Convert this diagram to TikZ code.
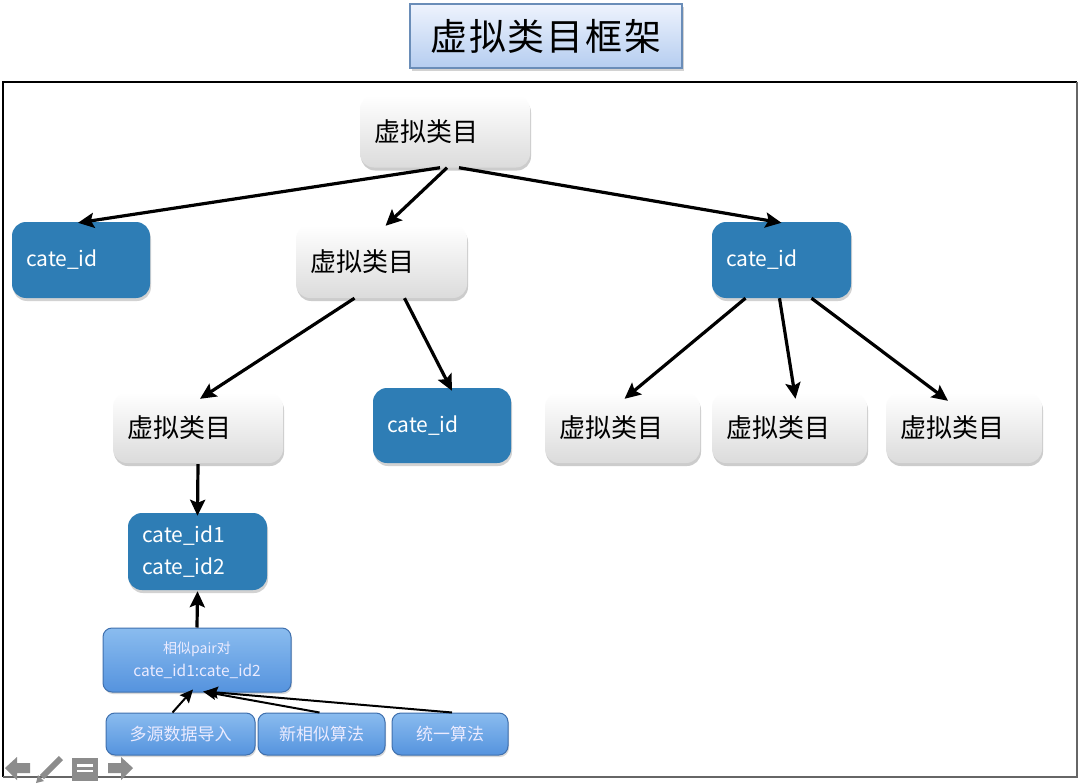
\documentclass[tikz,border=0pt]{standalone}
\usepackage{fontspec}
\setmainfont{Noto Sans CJK SC}
\usetikzlibrary{shadows,calc,arrows.meta}
\definecolor{cblue}{HTML}{2E7DB5}
\definecolor{ptop}{HTML}{8ABCEF}
\definecolor{pbot}{HTML}{5593DE}
\definecolor{pdraw}{HTML}{3F70AE}
\definecolor{ttop}{HTML}{EEF3FD}
\definecolor{tbot}{HTML}{B5CDF0}
\definecolor{tdraw}{HTML}{6A8DB8}
\definecolor{icon}{HTML}{8C8C8C}
\begin{document}
\begin{tikzpicture}[x=1pt,y=-1pt,
  vbox/.style={rounded corners=14pt, top color=white, bottom color=black!14, drop shadow={opacity=0.4,shadow xshift=1pt,shadow yshift=-3pt},
    font=\fontsize{26}{30}\selectfont, align=left, inner xsep=14pt, inner ysep=0pt, minimum height=72pt, text=black},
  cbox/.style={rounded corners=14pt, fill=cblue, drop shadow={opacity=0.35,shadow xshift=1pt,shadow yshift=-3pt},
    font=\fontsize{21}{32}\selectfont, align=left, inner xsep=14pt, inner ysep=0pt, minimum height=76pt, text=white},
  pbox/.style={rounded corners=9pt, top color=ptop, bottom color=pbot, draw=pdraw, line width=1pt,
    drop shadow={opacity=0.3,shadow xshift=1pt,shadow yshift=-2pt}, text=white!92!blue, align=center, inner sep=0pt},
  arr/.style={line width=3.2pt, -{Stealth[length=16pt,width=15pt,inset=3pt]}},
  sarr/.style={line width=2pt, -{Stealth[length=13pt,width=12pt,inset=2pt]}}
]
\useasboundingbox (0,0) rectangle (1080,784);
\fill[white] (0,0) rectangle (1080,784);
% frame
\draw[line width=1.4pt, black] (3,777) -- (3,82) -- (1077,82);
\draw[line width=2.6pt, black!60] (3,777) -- (1077,777) -- (1077,82);
% title
\node[draw=tdraw, line width=1.5pt, top color=ttop, bottom color=tbot, minimum width=272pt, minimum height=64pt,
  drop shadow={opacity=0.35,shadow xshift=2pt,shadow yshift=-3pt}, font=\fontsize{37}{40}\selectfont, inner sep=0pt]
  (title) at (546,36) {虚\hspace{2pt}拟\hspace{2pt}类\hspace{2pt}目\hspace{2pt}框\hspace{2pt}架};
% tree nodes
\node[vbox, text width=142pt] (root) at (445,131.5) {虚拟类目};
\node[cbox, text width=110pt] (cL) at (81,260) {cate\_id};
\node[vbox, text width=143pt, minimum height=73pt] (vM) at (381.5,261.5) {虚拟类目};
\node[cbox, text width=111pt] (cR) at (781.5,260) {cate\_id};
\node[vbox, text width=142pt, minimum height=70pt] (vL) at (198,428) {虚拟类目};
\node[cbox, text width=110pt, minimum height=75pt] (cM) at (442,425.5) {cate\_id};
\node[vbox, text width=127pt, minimum height=70pt] (v1) at (622.5,428) {虚拟类目};
\node[vbox, text width=127pt, minimum height=70pt] (v2) at (789.5,428) {虚拟类目};
\node[vbox, text width=128pt, minimum height=70pt] (v3) at (964,428) {虚拟类目};
\node[cbox, text width=111pt, minimum height=77pt] (cc) at (197.5,551.5) {cate\_id1\\cate\_id2};
% lower blue boxes
\node[pbox, minimum width=188pt, minimum height=64pt, font=\fontsize{15.5}{23}\selectfont] (pair) at (197,660)
  {{\fontsize{14}{16}\selectfont 相似pair对}\\cate\_id1:cate\_id2};
\node[pbox, minimum width=149pt, minimum height=42pt, font=\fontsize{17}{20}\selectfont] (b1) at (180.5,734) {多源数据导入};
\node[pbox, minimum width=127pt, minimum height=42pt, font=\fontsize{17}{20}\selectfont] (b2) at (321.5,734) {新相似算法};
\node[pbox, minimum width=116pt, minimum height=42pt, font=\fontsize{17}{20}\selectfont] (b3) at (450,734) {统一算法};
% arrows
\draw[arr] ([xshift=-5pt]root.south) -- ([xshift=-3pt,yshift=-1pt]cL.north);
\draw[arr] ([xshift=2pt]root.south) -- ([xshift=4pt,yshift=-1pt]vM.north);
\draw[arr] ([xshift=14pt]root.south) -- ([xshift=0pt,yshift=-1pt]cR.north);
\draw[arr] ([xshift=-27pt]vM.south) -- ([xshift=2pt,yshift=-6pt]vL.north);
\draw[arr] ([xshift=23pt]vM.south) -- ([xshift=10pt,yshift=-3pt]cM.north);
\draw[arr] ([xshift=-36pt]cR.south) -- ([xshift=2pt,yshift=-6pt]v1.north);
\draw[arr] ([xshift=-2pt]cR.south) -- ([xshift=6pt,yshift=-6pt]v2.north);
\draw[arr] ([xshift=30pt]cR.south) -- ([xshift=-16pt,yshift=-8pt]v3.north);
\draw[arr] ([yshift=-1pt]vL.south) -- ([yshift=-3pt]cc.north);
\draw[arr] (pair.north) -- ([yshift=-1pt]cc.south);
\draw[sarr] ([xshift=-8pt]b1.north) -- ([xshift=-4pt,yshift=3pt]pair.south);
\draw[sarr] ([xshift=-2pt]b2.north) -- ([xshift=6pt,yshift=1pt]pair.south);
\draw[sarr] ([xshift=2pt]b3.north) -- ([xshift=8pt,yshift=1pt]pair.south);
% navigation icons
\fill[icon] (5,768) -- (17,757) -- (17,763) -- (30,763) -- (30,773) -- (17,773) -- (17,780) -- cycle;
\draw[icon, line width=6pt] (42,777) -- (61,758);
\fill[icon] (36,783) -- (38,775) -- (44,781) -- cycle;
\fill[icon] (72,758) rectangle (98,781);
\fill[white] (77,764) rectangle (93,766.5);
\fill[white] (77,769.5) rectangle (93,772);
\fill[icon] (133,768) -- (121,757) -- (121,763) -- (108,763) -- (108,773) -- (121,773) -- (121,780) -- cycle;
\end{tikzpicture}
\end{document}
